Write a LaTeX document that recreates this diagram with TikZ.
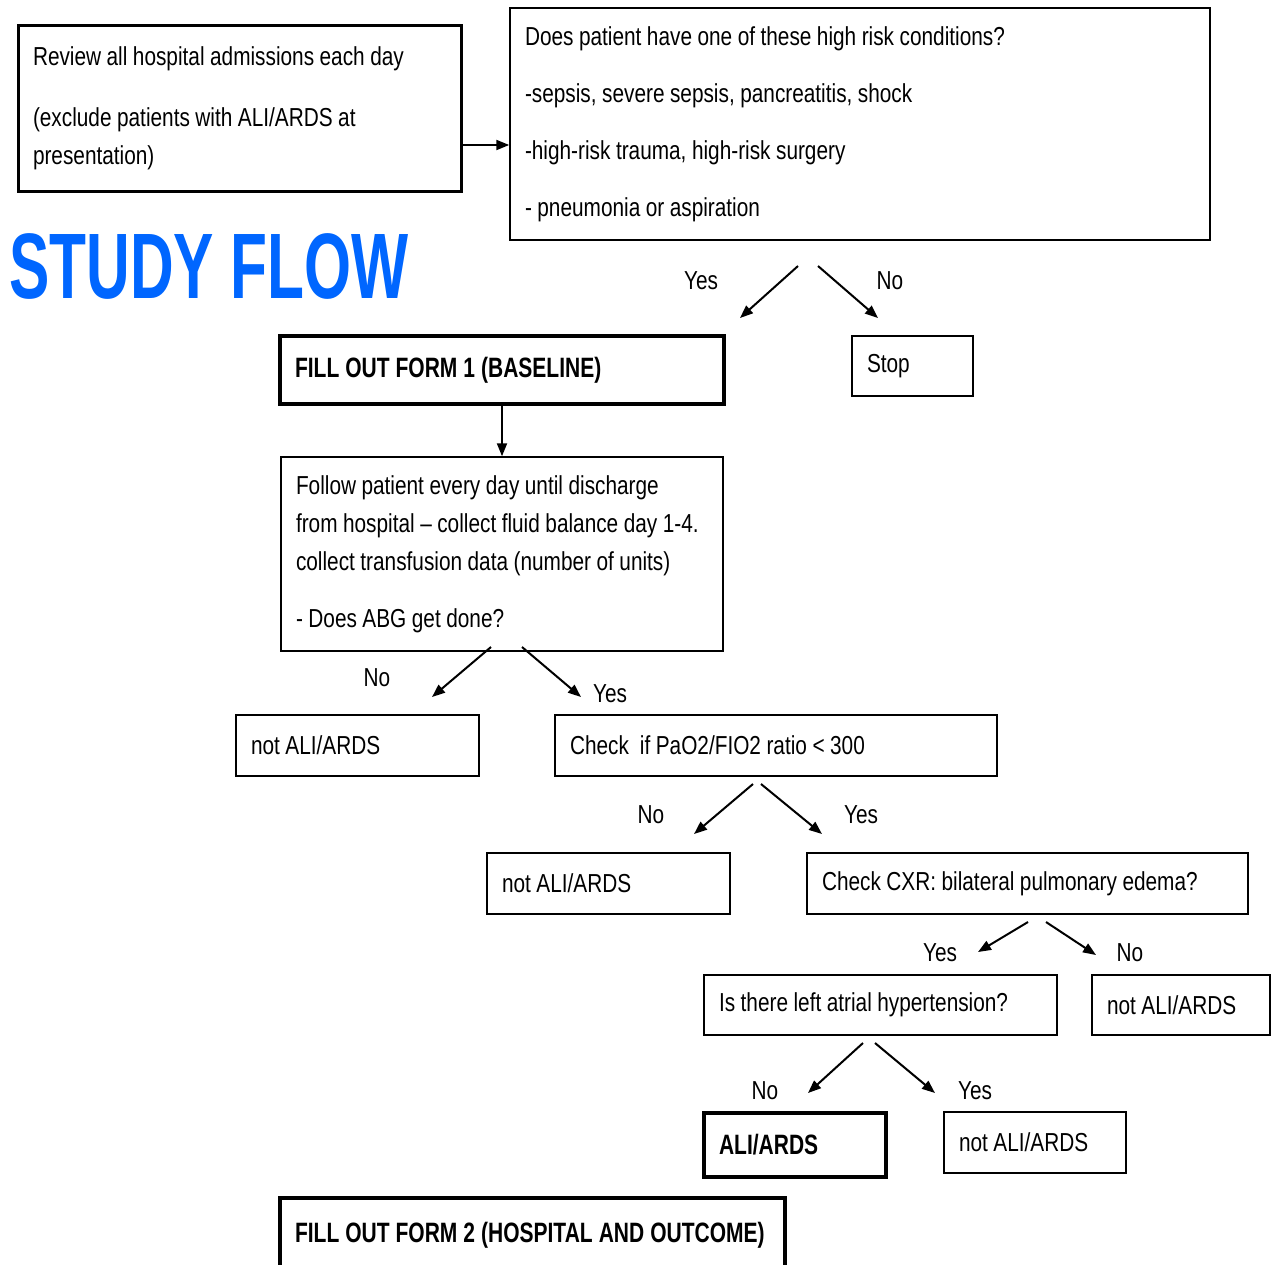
\documentclass[tikz,border=0pt]{standalone}
\usepackage{fontspec}
\setmainfont{Liberation Sans}[FakeStretch=0.8]
\newfontfamily\formfont{Liberation Sans}[FakeStretch=0.75]
\newfontfamily\titlefont{Liberation Sans}[FakeStretch=0.65]
\usetikzlibrary{arrows.meta}
\definecolor{flowblue}{RGB}{0,102,255}
\newcommand\bodyfont{\fontsize{26}{38}\selectfont\fontdimen2\font=5.5pt\relax}
\newcommand\formtext{\formfont\bfseries\fontsize{28}{38}\selectfont\fontdimen2\font=6pt\relax}

\begin{document}
\begin{tikzpicture}[x=1pt,y=-1pt,>={Triangle[length=13pt,width=10pt]},
        font=\bodyfont,
        box/.style={draw,rectangle,line width=1.5pt,inner xsep=15pt,inner ysep=0pt,align=flush left},
        heavy box/.style={box,line width=4.5pt,font=\formtext},
        answer/.style={inner sep=0pt},
        flow/.style={->,line width=2pt}]

    \useasboundingbox (0,0) rectangle (1273,1264);
    \clip (0,0) rectangle (1273,1264);

    \node[box,line width=3pt,minimum width=443,minimum height=166,text width=413] (review) at (239.5,108)
        {Review all hospital admissions each day\\[23pt]
         (exclude patients with ALI/ARDS at\\presentation)};
    \node[box,minimum width=700,minimum height=232,text width=670] (risk) at (860,124)
        {Does patient have one of these high risk conditions?\\[19pt]
         -sepsis, severe sepsis, pancreatitis, shock\\[19pt]
         -high-risk trauma, high-risk surgery\\[19pt]
         - pneumonia or aspiration};
    \node[anchor=base west,inner sep=0pt,text=flowblue,font=\titlefont\bfseries\fontsize{93}{93}\selectfont] (title) at (9,298) {STUDY FLOW};

    \node[heavy box,minimum width=444,minimum height=68,text width=414] (form1) at (502,370) {FILL OUT FORM 1 (BASELINE)};
    \node[box,minimum width=121,minimum height=60,text width=91] (stop) at (912.5,366) {Stop};
    \node[box,minimum width=442,minimum height=194,text width=412] (follow) at (502,554)
        {Follow patient every day until discharge\\
         from hospital – collect fluid balance day 1-4.\\
         collect transfusion data (number of units)\\[19pt]
         - Does ABG get done?};

    \node[box,minimum width=243,minimum height=61,text width=213] (notali1) at (357.5,745.5) {not ALI/ARDS};
    \node[box,minimum width=442,minimum height=61,text width=412] (ratio) at (776,745.5) {Check~ if PaO2/FIO2 ratio < 300};
    \node[box,minimum width=243,minimum height=61,text width=213] (notali2) at (608.5,883.5) {not ALI/ARDS};
    \node[box,minimum width=441,minimum height=61,text width=411] (cxr) at (1027.5,883.5) {Check CXR: bilateral pulmonary edema?};
    \node[box,minimum width=353,minimum height=60,text width=323] (lah) at (880.5,1005) {Is there left atrial hypertension?};
    \node[box,minimum width=178,minimum height=60,text width=148] (notali3) at (1181,1005) {not ALI/ARDS};
    \node[heavy box,line width=4pt,minimum width=182,minimum height=64,text width=152] (ali) at (795,1145) {ALI/ARDS};
    \node[box,minimum width=182,minimum height=61,text width=152] (notali4) at (1035,1142.5) {not ALI/ARDS};
    \node[heavy box,minimum width=505,minimum height=74,text width=475] (form2) at (532.5,1235) {FILL OUT FORM 2 (HOSPITAL AND OUTCOME)};

    % yes / no labels
    \node[answer] (riskyes) at (701,281) {Yes};
    \node[answer] (riskno) at (890,281) {No};
    \node[answer] (abgno) at (377,678) {No};
    \node[answer] (abgyes) at (610,694) {Yes};
    \node[answer] (rationo) at (651,815) {No};
    \node[answer] (ratioyes) at (861,815) {Yes};
    \node[answer] (cxryes) at (940,953) {Yes};
    \node[answer] (cxrno) at (1130,953) {No};
    \node[answer] (lahno) at (765,1091) {No};
    \node[answer] (lahyes) at (975,1091) {Yes};

    % free arrow ends
    \coordinate (a1) at ([yshift=-37pt]review.east);
    \coordinate (r1) at (798,266);  \coordinate (r2) at (740,318);
    \coordinate (r3) at (818,266);  \coordinate (r4) at (878,318);
    \coordinate (f1) at (491,647);  \coordinate (f2) at (432,697);
    \coordinate (f3) at (522,647);  \coordinate (f4) at (581,697);
    \coordinate (p1) at (753,784);  \coordinate (p2) at (694,834);
    \coordinate (p3) at (761,784);  \coordinate (p4) at (822,834);
    \coordinate (c1) at (1028,922); \coordinate (c2) at (978,952);
    \coordinate (c3) at (1046,922); \coordinate (c4) at (1096,955);
    \coordinate (h1) at (863,1043); \coordinate (h2) at (808,1093);
    \coordinate (h3) at (875,1043); \coordinate (h4) at (935,1093);

    \path[flow]
    (a1) edge (a1 -| risk.west)
    (form1.south) edge (follow.north)
    (r1) edge (r2)
    (r3) edge (r4)
    (f1) edge (f2)
    (f3) edge (f4)
    (p1) edge (p2)
    (p3) edge (p4)
    (c1) edge (c2)
    (c3) edge (c4)
    (h1) edge (h2)
    (h3) edge (h4);
\end{tikzpicture}
\end{document}
